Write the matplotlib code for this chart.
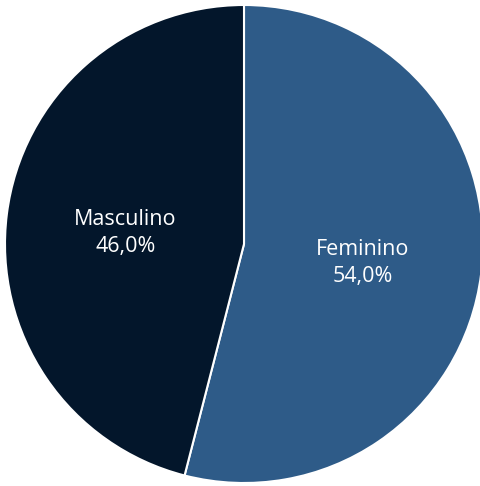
import matplotlib.pyplot as plt

# data
categories = ["Feminino", "Masculino"]
values = [54.0, 46.0]
colors = ["#2E5B88", "#03162B"]

labels = [f"{c}\n{v:.1f}%".replace(".", ",") for c, v in zip(categories, values)]

fig = plt.figure(figsize=(4.81, 4.86), dpi=100)
cx, cy, r = 244, 244, 239
ax = fig.add_axes([(cx - r) / 481, (486 - cy - r) / 486, 2 * r / 481, 2 * r / 486])

wedges, texts = ax.pie(values, labels=labels, colors=colors, startangle=90,
                       counterclock=False, labeldistance=0.5,
                       wedgeprops=dict(edgecolor="white", linewidth=1.5),
                       textprops=dict(color="white", fontsize=15.5,
                                      family="Open Sans", ha="center",
                                      va="center", linespacing=1.35))
# nudge labels down a few pixels
for t in texts:
    x, y = t.get_position()
    t.set_position((x, y - 4 / r))

ax.set_xlim(-1, 1)
ax.set_ylim(-1, 1)
ax.set_aspect("auto")

fig.savefig("out.png", dpi=100)
